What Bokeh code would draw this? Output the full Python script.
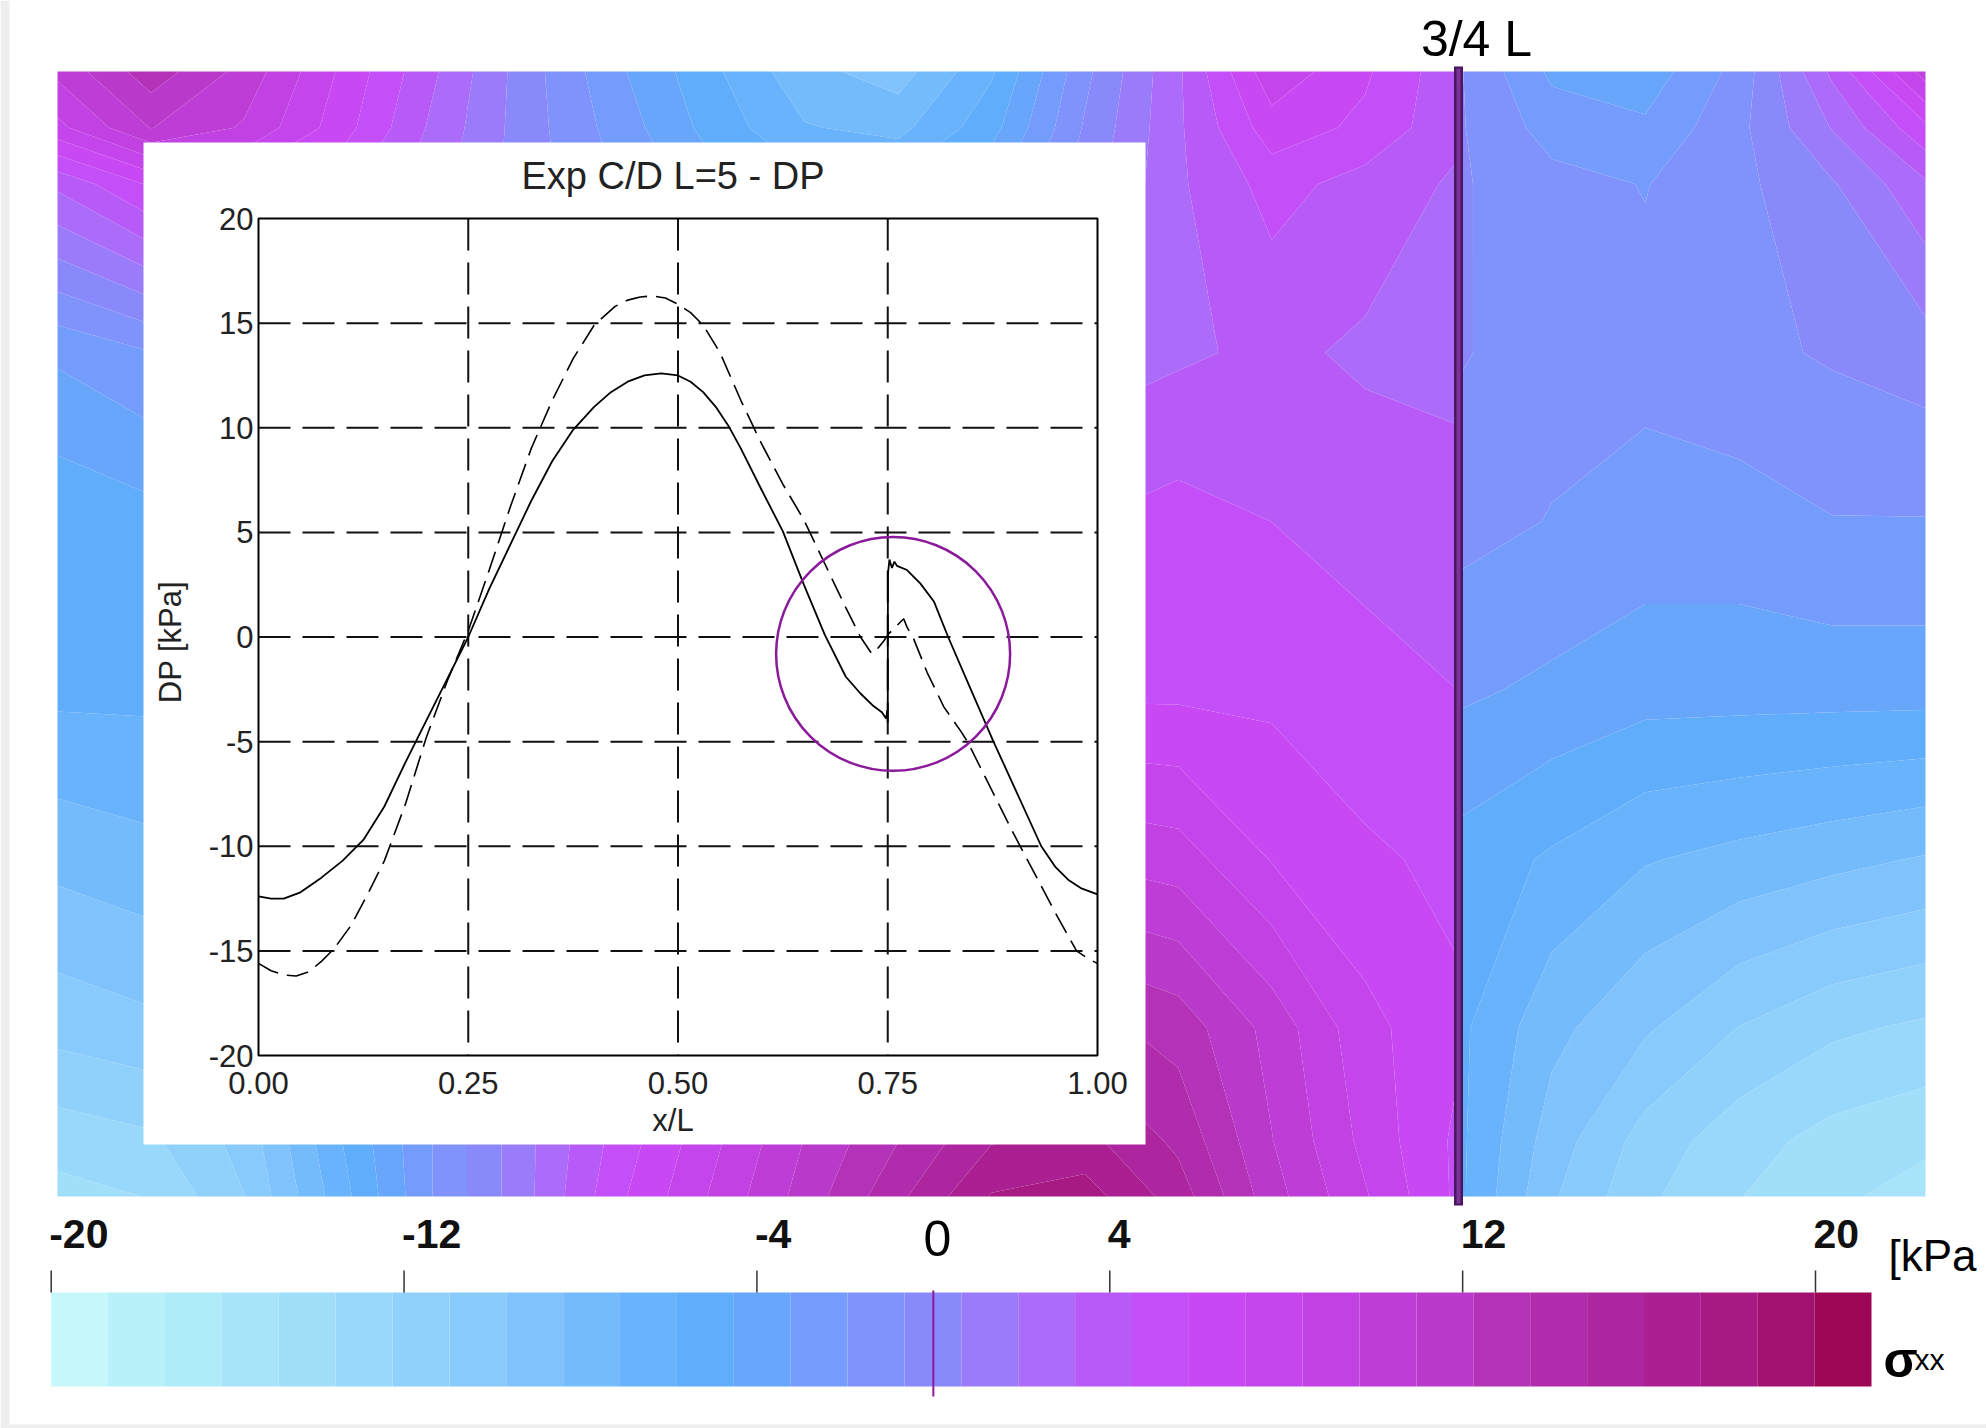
import numpy as np
from bokeh.plotting import figure
from bokeh.models import Range1d
from bokeh.core.properties import value
from bokeh.embed import file_html
from bokeh.resources import INLINE

# ---------------- data ----------------
# inset chart: DP [kPa] along x/L
x_solid = [0.00, 0.015, 0.03, 0.05, 0.075, 0.10, 0.125, 0.15, 0.175, 0.20, 0.225, 0.25, 0.275,
           0.30, 0.325, 0.35, 0.375, 0.40, 0.42, 0.44, 0.46, 0.48, 0.50, 0.515, 0.53, 0.545,
           0.56, 0.575, 0.60, 0.625, 0.65, 0.675, 0.70, 0.7175, 0.733, 0.743, 0.748, 0.7495,
           0.750, 0.7502, 0.752, 0.755, 0.758, 0.761, 0.773, 0.789, 0.805, 0.822, 0.85, 0.876,
           0.90, 0.933, 0.95, 0.965, 0.98, 1.00]
dp_solid = [-12.4, -12.5, -12.5, -12.2, -11.5, -10.7, -9.7, -8.1, -6.0, -4.0, -2.0, 0.0, 2.3,
            4.4, 6.5, 8.4, 9.9, 11.0, 11.7, 12.2, 12.5, 12.6, 12.5, 12.2, 11.7, 11.0,
            10.1, 9.0, 7.0, 5.05, 2.5, 0.1, -1.9, -2.7, -3.3, -3.6, -3.9, -3.5,
            -4.1, 3.0, 3.7, 3.3, 3.6, 3.4, 3.2, 2.55, 1.7, 0.0, -2.6, -5.0,
            -7.1, -10.0, -11.0, -11.6, -12.0, -12.3]
x_dashed = [0.00, 0.015, 0.03, 0.045, 0.06, 0.075, 0.09, 0.11, 0.13, 0.15, 0.175, 0.20,
            0.225, 0.25, 0.275, 0.30, 0.325, 0.35, 0.375, 0.40, 0.425, 0.44, 0.455, 0.47,
            0.485, 0.50, 0.515, 0.53, 0.55, 0.575, 0.60, 0.625, 0.65, 0.675, 0.70, 0.7175,
            0.731, 0.739, 0.745, 0.751, 0.769, 0.773, 0.781, 0.797, 0.817, 0.837, 0.845,
            0.875, 0.90, 0.925, 0.95, 0.975, 0.99, 1.00]
dp_dashed = [-15.6, -15.95, -16.15, -16.2, -16.0, -15.5, -14.9, -13.8, -12.3, -10.7, -8.0, -4.8,
             -2.1, 0.3, 3.2, 6.2, 9.0, 11.3, 13.3, 14.9, 15.8, 16.1, 16.25, 16.3,
             16.2, 15.9, 15.5, 14.9, 13.6, 11.3, 9.2, 7.3, 5.6, 3.5, 1.4, 0.0,
             -0.8, -0.5, -0.2, 0.15, 0.87, 0.47, -0.1, -1.7, -3.35, -4.5, -5.0,
             -7.4, -9.4, -11.3, -13.2, -15.0, -15.4, -15.6]
inset_xticks = [0.0, 0.25, 0.5, 0.75, 1.0]
inset_xlabels = ["0.00", "0.25", "0.50", "0.75", "1.00"]
inset_yticks = [20, 15, 10, 5, 0, -5, -10, -15, -20]
inset_ygrid = [15, 10, 5, 0, -5, -10, -15]
inset_xgrid = [0.25, 0.5, 0.75]
highlight_x = [0.7564]
highlight_y = [-0.81]

# colour scale sigma_xx [kPa]
cbar_min, cbar_max, n_bands = -20.0, 21.27, 32
cbar_ticks = [-20, -12, -4, 4, 12, 20]
palette = ["#c6f8fb", "#b9f1fa", "#b0ebfa", "#a7e4fa", "#a0defa", "#98d8fb", "#90d1fc", "#88cafc",
           "#80c3fc", "#74bbfc", "#68b3fc", "#60adfc", "#68a6fc", "#749cfc", "#8092fc", "#8a89fb",
           "#9a7cfa", "#aa6cf9", "#b85af8", "#c44ef8", "#c849f4", "#c545ec", "#c141e2", "#bd3dd6",
           "#b939cb", "#b432b8", "#b02cac", "#ad26a0", "#aa2092", "#a71a84", "#a21070", "#9c0654"]

# background stress field sigma_xx (x/L, y/H), left and right of the 3/4 L joint
field_y = [0.0, 0.05, 0.15, 0.30, 0.45, 0.60, 0.75, 0.90, 0.95, 1.0]
field_x_left = [0.0, 0.05, 0.1, 0.15, 0.2, 0.25, 0.3, 0.35, 0.4, 0.45, 0.5, 0.55, 0.6, 0.65, 0.7, 0.75]
field_left = [
    [-14, -13.5, -11, -6.5, -2, 1.5, 5.5, 8.5, 11.5, 14.5, 17.5, 18, 15.5, 11.5, 8.5, 5.5],
    [-13, -12.5, -10.5, -6, -2, 1.5, 5, 8, 11, 13.5, 16, 16.5, 14.5, 11, 8, 5.5],
    [-10.5, -10, -8, -4.5, -1, 1.5, 4.5, 7, 9.5, 11.5, 13.5, 14, 13, 10.5, 7.5, 6],
    [-8, -7.5, -5.5, -3, -0.5, 1.5, 4, 5.5, 7, 8.5, 9.5, 9.5, 9, 7, 6, 5.5],
    [-5.5, -5.5, -4, -2.5, -0.5, 1, 2.5, 3.5, 4.5, 5, 5.5, 5.5, 5.5, 5.5, 5, 4.5],
    [-5.5, -5, -3.5, -2, -0.5, 0.5, 1, 1.5, 2, 3, 4, 4.5, 5, 4.5, 4, 3.5],
    [-3, -2, -1, -0.5, 0, 0, -0.5, -1, -1, -0.5, 1, 2.5, 3, 3.5, 3, 3],
    [3.5, 6, 6.5, 5, 2.5, 0, -2, -4, -5.5, -5.5, -3.5, 0, 3, 5, 4, 3],
    [8, 11, 9.5, 6.5, 3, 0, -2.5, -5, -7, -7.5, -5, -0.5, 3, 6.5, 5.5, 3.5],
    [10, 13, 10.5, 7, 3.5, 0, -3, -5.5, -8, -9, -6, -1, 3, 8, 6, 3.5],
]
field_x_right = [0.75, 0.8, 0.85, 0.9, 0.95, 1.0]
field_right = [
    [-5.5, -9.5, -12, -13.5, -14.5, -15.5],
    [-5.5, -9, -11.5, -13, -14, -14.5],
    [-5.5, -8, -9.5, -11, -12, -12.5],
    [-5, -6, -7, -7.5, -8, -8.5],
    [-3, -3.5, -4, -4, -4, -4],
    [-1.5, -2, -2.5, -2.5, -2, -2],
    [-0.5, -1.5, -1.5, -1, -0.5, 0],
    [-0.5, -1.5, -2, -1, 0.5, 3],
    [-0.5, -2.5, -3, -1, 2, 5.5],
    [-0.5, -3.5, -4, -1.5, 3.5, 9],
]
joint_x = 0.75

# ---------------- figure ----------------
W, H = 1986, 1428
FONT = value("Liberation Sans")
p = figure(width=W, height=H, title=None,
           x_range=Range1d(-57 / 1868, 1 + (W - 1925) / 1868),
           y_range=Range1d(-(H - 1196) / 1125, 1 + 71 / 1125),
           x_axis_location=None, y_axis_location=None,
           output_backend="svg", toolbar_location=None, min_border=0)
p.grid.visible = False
p.outline_line_color = None
p.background_fill_color = "white"
p.border_fill_color = "white"

p.extra_x_ranges = {"px": Range1d(0, W),
                    "ix": Range1d(-258 / 839, 1 + (W - 1097) / 839),
                    "cb": Range1d(-20 - 50.7 / 44.1075, 20 + (W - 1815) / 44.1075)}
p.extra_y_ranges = {"py": Range1d(H, 0),
                    "iy": Range1d(-20 - (H - 1055) / 20.925, 20 + 218 / 20.925)}

levels = list(np.linspace(cbar_min, cbar_max, n_bands + 1))

# light grey page border (left and bottom edge of the original picture)
p.quad(left=[0, 0], right=[9, W], bottom=[H, H], top=[0, H - 4], x_range_name="px",
       y_range_name="py", fill_color="#eeeeee", line_color=None)

# background field
p.contour(x=field_x_left, y=field_y, z=np.array(field_left, dtype=float),
          levels=levels, fill_color=palette)
p.contour(x=field_x_right, y=field_y, z=np.array(field_right, dtype=float),
          levels=levels, fill_color=palette)

# 3/4 L joint line
p.segment(x0=[joint_x], y0=[66], x1=[joint_x], y1=[1205], y_range_name="py",
          line_color="#4a1660", line_width=9)
p.segment(x0=[joint_x], y0=[68], x1=[joint_x], y1=[1203], y_range_name="py",
          line_color="#7a3396", line_width=4)
p.text(x=[joint_x], y=[38], text=["3/4 L"], x_offset=18, y_range_name="py",
       text_align="center", text_baseline="middle", text_font=FONT,
       text_font_size="50px", text_color="black")

# inset white panel
p.quad(left=[143], right=[1145], bottom=[1144], top=[142], x_range_name="px", y_range_name="py",
       fill_color="white", line_color=None)

ik = dict(x_range_name="ix", y_range_name="iy")
# grid
p.segment(x0=[0] * len(inset_ygrid), y0=inset_ygrid, x1=[1] * len(inset_ygrid), y1=inset_ygrid,
          line_color="#111111", line_width=2, line_dash="32 12", **ik)
p.segment(x0=inset_xgrid, y0=[20] * 3, x1=inset_xgrid, y1=[-20] * 3,
          line_color="#111111", line_width=2, line_dash="32 12", **ik)
# curves
p.line(x_dashed, dp_dashed, line_color="black", line_width=1.6, line_dash="22 9", **ik)
p.line(x_solid, dp_solid, line_color="black", line_width=1.8, **ik)
# frame
p.quad(left=[0], right=[1], bottom=[-20], top=[20], fill_color=None,
       line_color="black", line_width=2, **ik)
# highlight circle
p.scatter(x=highlight_x, y=highlight_y, marker="circle", size=234, fill_color=None,
          line_color="#8b1a9b", line_width=2.5, **ik)
# tick labels
p.text(x=[0] * len(inset_yticks), y=inset_yticks, text=[str(v) for v in inset_yticks],
       x_offset=-5, text_align="right", text_baseline="middle", text_font=FONT,
       text_font_size="31px", text_color="#222222", **ik)
p.text(x=inset_xticks, y=[-20] * len(inset_xticks), text=inset_xlabels, y_offset=27,
       text_align="center", text_baseline="middle", text_font=FONT,
       text_font_size="31px", text_color="#222222", **ik)
p.text(x=[0.5], y=[-20], text=["x/L"], x_offset=-5, y_offset=65,
       text_align="center", text_baseline="middle", text_font=FONT,
       text_font_size="31px", text_color="#222222", **ik)
p.text(x=[0], y=[0], text=["DP [kPa]"], x_offset=-88, y_offset=5, angle=np.pi / 2,
       text_align="center", text_baseline="middle", text_font=FONT,
       text_font_size="31px", text_color="#222222", **ik)
p.text(x=[0.5], y=[20], text=["Exp C/D L=5 - DP"], x_offset=-5, y_offset=-43,
       text_align="center", text_baseline="middle", text_font=FONT,
       text_font_size="38px", text_color="#222222", **ik)

# colour bar
ck = dict(x_range_name="cb", y_range_name="py")
p.quad(left=levels[:-1], right=levels[1:], bottom=[1386] * n_bands, top=[1292] * n_bands,
       fill_color=palette, line_color=None, **ck)
p.segment(x0=cbar_ticks, y0=[1270] * len(cbar_ticks), x1=cbar_ticks, y1=[1292] * len(cbar_ticks),
          line_color="#333333", line_width=1.5, **ck)
p.text(x=cbar_ticks, y=[1233] * len(cbar_ticks), text=[str(t) for t in cbar_ticks],
       x_offset=-2, text_align="left", text_baseline="middle", text_font=FONT,
       text_font_style="bold", text_font_size="41px", text_color="#111111", **ck)
p.segment(x0=[0], y0=[1290], x1=[0], y1=[1396], line_color="#8b1a9b", line_width=2, **ck)
p.text(x=[0], y=[1238], text=["0"], x_offset=4, text_align="center", text_baseline="middle",
       text_font=FONT, text_font_size="50px", text_color="black", **ck)
p.text(x=[1888], y=[1255], text=["[kPa"], x_range_name="px", y_range_name="py",
       text_align="left", text_baseline="alphabetic", text_font=FONT,
       text_font_size="44px", text_color="black")
p.text(x=[1883], y=[1359], text=["σ"], x_range_name="px", y_range_name="py",
       text_align="left", text_baseline="alphabetic", text_font=FONT,
       text_font_style="bold", text_font_size="50px", text_color="black")
p.text(x=[1914], y=[1359], text=["xx"], x_range_name="px", y_range_name="py",
       text_align="left", text_baseline="alphabetic", text_font=FONT,
       text_font_size="30px", text_color="black")

html = file_html(p, INLINE)
open("out.html", "w").write(html)
